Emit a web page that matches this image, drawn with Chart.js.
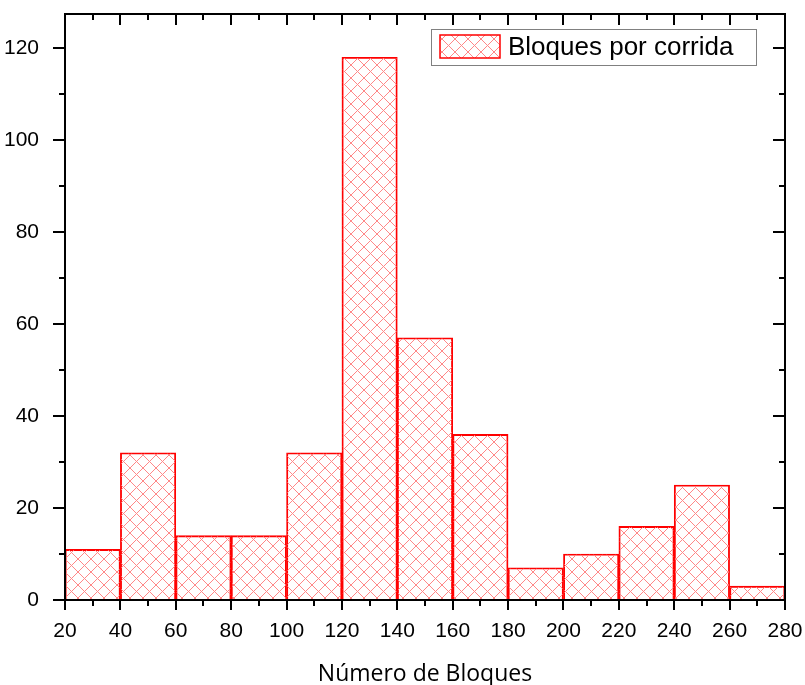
<!DOCTYPE html>
<html>
<head>
<meta charset="utf-8">
<style>
  html, body { margin: 0; padding: 0; background: #fff; }
  #wrap { width: 805px; height: 685px; }
</style>
</head>
<body>
<div id="wrap"><canvas id="histChart" width="805" height="685"></canvas></div>
<script src="https://cdn.jsdelivr.net/npm/chart.js"></script>
<script>
// bins (left edge of each bar, width 20) and counts
const binStart = [20, 40, 60, 80, 100, 120, 140, 160, 180, 200, 220, 240, 260];
const counts = [11, 32, 14, 14, 32, 118, 57, 36, 7, 10, 16, 25, 3];
const binWidth = 20;
const xTicks = [20, 40, 60, 80, 100, 120, 140, 160, 180, 200, 220, 240, 260, 280];
const yTicks = [0, 20, 40, 60, 80, 100, 120];
const seriesLabel = 'Bloques por corrida';
const xTitle = 'Número de Bloques';

// cross hatch fill
function makeHatch() {
  const p = 13;
  const c = document.createElement('canvas');
  c.width = p; c.height = p;
  const g = c.getContext('2d');
  g.strokeStyle = '#ff8888';
  g.lineWidth = 1;
  g.beginPath();
  g.moveTo(-1, -1); g.lineTo(p + 1, p + 1);
  g.moveTo(-1, p + 1); g.lineTo(p + 1, -1);
  g.stroke();
  return g.createPattern(c, 'repeat');
}
const hatch = makeHatch();

const points = binStart.map((b, i) => ({ x: b + binWidth / 2, y: counts[i] }));

// frame, ticks on all four sides, legend box
const framePlugin = {
  id: 'frame',
  afterDraw(chart) {
    const ctx = chart.ctx;
    const a = chart.chartArea;
    const xs = chart.scales.x, ys = chart.scales.y;
    ctx.save();
    ctx.strokeStyle = '#000';
    ctx.lineWidth = 2;
    ctx.strokeRect(a.left, a.top, a.right - a.left, a.bottom - a.top);

    ctx.lineWidth = 2;
    ctx.beginPath();
    for (let i = 0; i < xTicks.length; i++) {
      const px = Math.round(xs.getPixelForValue(xTicks[i]));
      ctx.moveTo(px, a.bottom); ctx.lineTo(px, a.bottom + 10);
      ctx.moveTo(px, a.top); ctx.lineTo(px, a.top + 11);
      if (i < xTicks.length - 1) {
        const mx = Math.round(xs.getPixelForValue((xTicks[i] + xTicks[i + 1]) / 2));
        ctx.moveTo(mx, a.bottom); ctx.lineTo(mx, a.bottom + 6);
        ctx.moveTo(mx, a.top); ctx.lineTo(mx, a.top + 6);
      }
    }
    for (let i = 0; i < yTicks.length; i++) {
      const py = Math.round(ys.getPixelForValue(yTicks[i]));
      ctx.moveTo(a.left - 12, py); ctx.lineTo(a.left, py);
      ctx.moveTo(a.right - 12, py); ctx.lineTo(a.right, py);
      const mv = yTicks[i] + 10;
      if (mv < ys.max) {
        const my = Math.round(ys.getPixelForValue(mv));
        ctx.moveTo(a.left - 6, my); ctx.lineTo(a.left, my);
        ctx.moveTo(a.right - 6, my); ctx.lineTo(a.right, my);
      }
    }
    ctx.stroke();

    // legend
    const bx = a.right - 354, by = a.top + 15, bw = 325, bh = 36;
    ctx.fillStyle = '#fff';
    ctx.fillRect(bx, by, bw, bh);
    ctx.strokeStyle = '#808080';
    ctx.lineWidth = 1;
    ctx.strokeRect(bx + 0.5, by + 0.5, bw, bh);
    ctx.fillStyle = hatch;
    ctx.fillRect(bx + 9, by + 6, 60, 23);
    ctx.strokeStyle = '#ff0000';
    ctx.lineWidth = 1.5;
    ctx.strokeRect(bx + 9, by + 6, 60, 23);
    ctx.fillStyle = '#000';
    ctx.font = '26px "Liberation Sans", Arial, sans-serif';
    ctx.textBaseline = 'middle';
    ctx.fillText(chart.data.datasets[0].label, bx + 77, by + 19);
    ctx.restore();
  }
};

new Chart(document.getElementById('histChart'), {
  type: 'bar',
  data: {
    datasets: [{
      label: seriesLabel,
      data: points,
      backgroundColor: hatch,
      borderColor: '#ff0000',
      borderWidth: 1.2,
      barPercentage: 1,
      categoryPercentage: 1
    }]
  },
  options: {
    responsive: false,
    animation: false,
    layout: { padding: { top: 14, right: 20, left: 0, bottom: 0 } },
    plugins: { legend: { display: false }, tooltip: { enabled: false } },
    scales: {
      x: {
        type: 'linear',
        min: 20,
        max: 280,
        offset: false,
        grid: { display: false },
        border: { display: false },
        afterBuildTicks(scale) { scale.ticks = xTicks.map(v => ({ value: v })); },
        afterFit(scale) {
          scale.height = 85;
          scale.paddingLeft = 0; scale.paddingRight = 0;
        },
        ticks: {
          padding: 11,
          color: '#000',
          maxRotation: 0,
          autoSkip: false,
          font: { family: '"Liberation Sans", Arial, sans-serif', size: 21 }
        },
        title: {
          display: true,
          text: xTitle,
          color: '#000',
          padding: { top: 0, bottom: -3 },
          font: { family: '"Open Sans", sans-serif', size: 23 }
        }
      },
      y: {
        min: 0,
        max: 127.4,
        grid: { display: false },
        border: { display: false },
        afterBuildTicks(scale) { scale.ticks = yTicks.map(v => ({ value: v })); },
        afterFit(scale) {
          scale.width = 65;
          scale.paddingTop = 0; scale.paddingBottom = 0;
        },
        ticks: {
          padding: 18,
          color: '#000',
          font: { family: '"Liberation Sans", Arial, sans-serif', size: 21 }
        }
      }
    }
  },
  plugins: [framePlugin]
});
</script>
</body>
</html>
